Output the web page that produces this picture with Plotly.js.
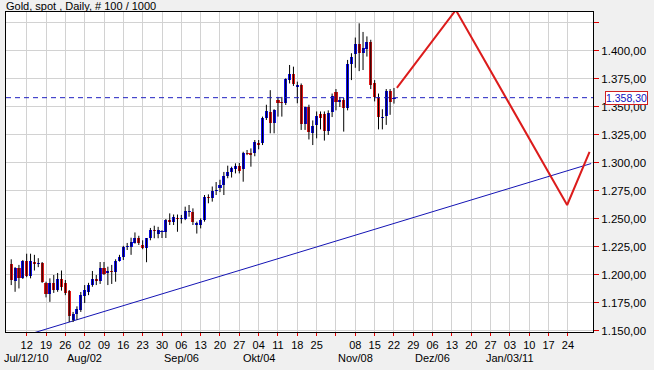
<!DOCTYPE html>
<html><head><meta charset="utf-8">
<script src="https://cdn.plot.ly/plotly-3.0.1.min.js"></script>
<style>html,body{margin:0;padding:0;background:#fff}#chart{width:654px;height:388px}</style>
</head><body><div id="chart"></div>
<script>
const dates = [
"2010-07-06","2010-07-07","2010-07-08","2010-07-09",
"2010-07-12","2010-07-13","2010-07-14","2010-07-15","2010-07-16",
"2010-07-19","2010-07-20","2010-07-21","2010-07-22","2010-07-23",
"2010-07-26","2010-07-27","2010-07-28","2010-07-29","2010-07-30",
"2010-08-02","2010-08-03","2010-08-04","2010-08-05","2010-08-06",
"2010-08-09","2010-08-10","2010-08-11","2010-08-12","2010-08-13",
"2010-08-16","2010-08-17","2010-08-18","2010-08-19","2010-08-20",
"2010-08-23","2010-08-24","2010-08-25","2010-08-26","2010-08-27",
"2010-08-30","2010-08-31","2010-09-01","2010-09-02","2010-09-03",
"2010-09-06","2010-09-07","2010-09-08","2010-09-09","2010-09-10",
"2010-09-13","2010-09-14","2010-09-15","2010-09-16","2010-09-17",
"2010-09-20","2010-09-21","2010-09-22","2010-09-23","2010-09-24",
"2010-09-27","2010-09-28","2010-09-29","2010-09-30","2010-10-01",
"2010-10-04","2010-10-05","2010-10-06","2010-10-07","2010-10-08",
"2010-10-11","2010-10-12","2010-10-13","2010-10-14","2010-10-15",
"2010-10-18","2010-10-19","2010-10-20","2010-10-21","2010-10-22",
"2010-10-25","2010-10-26","2010-10-27","2010-10-28","2010-10-29",
"2010-11-01","2010-11-02","2010-11-03","2010-11-04","2010-11-05",
"2010-11-08","2010-11-09","2010-11-10","2010-11-11","2010-11-12",
"2010-11-15","2010-11-16","2010-11-17","2010-11-18","2010-11-19",
"2010-11-22"];

const open = [
1209.8,1194.6,1206.3,1197.3,
1212.5,1199,1212,1210,1210.7,
1193,1183,1192.6,1186.6,1196,
1193,1185.7,1159.8,1165,1168.8,
1181,1184.5,1191,1196,1194.6,
1206,1201.6,1203.5,1202.4,1212.5,
1216.4,1225.3,1225.3,1229,1233.3,
1226.8,1224.5,1232.8,1240.5,1237,
1238,1238.2,1249,1247,1251,
1250,1250,1256,1256,1245,
1244.6,1249,1270,1269,1275,
1277.4,1280.4,1288.7,1292.3,1294.4,
1297.3,1294.4,1309.2,1309,1309.2,
1317.6,1317.6,1340,1345.8,1336,
1356,1354.7,1353.3,1374,1379.5,
1367.6,1369.6,1334.8,1350,1327,
1334,1344,1343.5,1328.6,1345.3,
1363,1354.5,1356,1349.4,1388,
1397,1406,1398,1402,1408,
1371,1359,1340,1342,1364,
1357.5];

const high = [
1214,1207,1209,1213.4,
1219,1219,1218,1215,1211.6,
1194,1197,1200,1201.8,1204,
1195.5,1186.6,1167,1172,1184.8,
1191,1193,1203.6,1200,1211.6,
1211.6,1207.4,1209,1214,1218,
1226,1228.6,1233.3,1238,1235,
1231,1233,1242,1244,1243,
1240,1250,1255,1254,1254,
1253.6,1261,1262.5,1259.5,1247.6,
1250.6,1271.4,1272,1279,1283,
1285,1292,1297.6,1296.7,1299.7,
1300,1310,1311.6,1313,1320.5,
1320.5,1341.4,1352,1365,1348,
1359,1359,1375.6,1387.5,1386,
1372.6,1371,1350.3,1352,1338,
1346,1346,1346,1347,1362,
1366,1359,1358,1392,1398,
1412,1424.7,1417,1413,1410,
1374,1362,1348,1366,1366,
1367];

const low = [
1191,1185,1188,1196.4,
1198,1197,1204,1207,1193,
1180,1176,1184,1185,1186,
1182,1158,1158,1160,1167,
1175,1182,1189.5,1191,1192,
1200,1191,1192,1194,1212,
1213.4,1222.3,1218,1228,1226.8,
1223,1211.4,1231,1232.8,1232.8,
1233,1233,1244.6,1244.6,1238.6,
1246,1249,1252,1244.6,1237,
1241.6,1247.6,1264,1265.5,1271.4,
1274,1271.4,1286.4,1287,1290.7,
1290.7,1283.3,1307,1296.7,1306,
1312.2,1316,1338.4,1326.5,1326.5,
1341.4,1341.4,1351.8,1371,1368.8,
1353.3,1329.5,1329.5,1321,1316,
1322,1330,1320,1325,1341,
1347,1350,1328,1347,1374,
1385,1382,1383,1395,1366,
1355,1330,1330,1334,1343,
1353];

const close = [
1195.5,1206.3,1197.3,1212.5,
1199,1212.5,1210,1211,1193.8,
1183,1193,1187,1196,1189,
1184,1163.4,1165,1169.6,1182,
1186.6,1191,1196,1195,1206,
1200.6,1203.6,1202.5,1212.5,1216.4,
1225.3,1226.3,1229.7,1232.8,1229,
1223.8,1232.8,1240,1239.5,1240,
1239,1249,1247,1252,1250,
1251,1257,1257,1247.6,1246,
1249,1270,1268.8,1275,1276,
1280.4,1288.7,1292.3,1295.3,1297.3,
1293,1309.2,1308,1307.5,1319,
1316,1340,1346.4,1336,1347.3,
1354,1353.3,1374.7,1379.5,1370.5,
1369.6,1334.8,1349.7,1327.4,1333,
1342,1340.5,1328.6,1344.4,1360,
1354.7,1356,1349.4,1388,1395,
1406,1398,1402.4,1408,1370,
1359,1341,1341.5,1364,1354.7,
1358.3];

const lastPrice = 1358.30;

// price grid levels; only 1.150–1.400 carry a label
const priceTicks = [1150,1175,1200,1225,1250,1275,1300,1325,1350,1375,1400,1425];
const labelledMax = 1400;

// weekly tick marks (Mondays) and their labels
const tickDates = ["2010-07-12","2010-07-19","2010-07-26","2010-08-02","2010-08-09","2010-08-16","2010-08-23","2010-08-30",
"2010-09-06","2010-09-13","2010-09-20","2010-09-27","2010-10-04","2010-10-11","2010-10-18","2010-10-25",
"2010-11-01","2010-11-08","2010-11-15","2010-11-22","2010-11-29","2010-12-06","2010-12-13","2010-12-20","2010-12-27",
"2011-01-03","2011-01-10","2011-01-17","2011-01-24"];
const tickText = ["12","19","26","02","09","16","23","30","06","13","20","27","04","11","18","25",
"","08","15","22","29","06","13","20","27","03","10","17","24"];

const monthDates = ["2010-07-12","2010-08-02","2010-09-06","2010-10-04","2010-11-08","2010-12-06","2011-01-03"];
const monthText = ["Jul/12/10","Aug/02","Sep/06","Okt/04","Nov/08","Dez/06","Jan/03/11"];

// drawn trend line and forecast zigzag
const trendX = ["2010-07-14","2011-02-01"];
const trendY = [1148.5, 1299.5];
const fcX = ["2010-11-22 18:00","2010-12-14 00:00","2011-01-21 19:00","2011-01-31 14:00"];
const fcY = [1367, 1436.6, 1262.5, 1310];

const BLUE = "#0c0cf0", RED = "#e01818";
const FONT = "Liberation Sans, Arial, sans-serif";
const DAY = 86400000;

const bodyBase = open.map((o,i)=>Math.min(o, close[i]));
const bodyLen = open.map((o,i)=>Math.abs(close[i]-o));
const bodyColor = open.map((o,i)=> close[i] >= o ? BLUE : RED);
const wx = [], wy = [];
dates.forEach((d,i)=>{ wx.push(d,d,null); wy.push(low[i],high[i],null); });

function fmt(v){
  const s = v.toFixed(2).split(".");
  return s[0].replace(/\B(?=(\d{3})+(?!\d))/g,".") + "," + s[1];
}
const priceText = priceTicks.map(v => v <= labelledMax ? fmt(v) : "");

const traces = [
  {type:"scatter", mode:"lines", x:trendX, y:trendY, line:{color:"#1414b4", width:1}, hoverinfo:"skip"},
  {type:"scatter", mode:"lines", x:wx, y:wy, line:{color:"#000", width:1}, connectgaps:false, hoverinfo:"skip"},
  {type:"bar", x:dates, y:bodyLen, base:bodyBase, width:0.8*DAY, marker:{color:bodyColor, line:{width:0}}, hoverinfo:"skip"},
  {type:"scatter", mode:"lines", x:fcX, y:fcY, line:{color:"#dc1c1c", width:2}, hoverinfo:"skip"}
];

const annotations = [
  {xref:"paper", yref:"paper", x:-0.0034, y:1.019, xanchor:"left", yanchor:"middle", showarrow:false,
   text:"Gold, spot , Daily, # 100 / 1000", font:{family:FONT, size:11, color:"#000"}},
  {xref:"paper", yref:"y", x:1.0204, y:lastPrice, xanchor:"left", yanchor:"middle", showarrow:false,
   text:fmt(lastPrice), font:{family:FONT, size:10.5, color:"#1010c0"}, bgcolor:"#fff",
   bordercolor:"#d02020", borderwidth:1, borderpad:0}
];
monthDates.forEach((d,i)=>annotations.push({xref:"x", yref:"paper", x:d, y:-0.080, xanchor:"center", yanchor:"middle",
  showarrow:false, text:monthText[i], font:{family:FONT, size:11, color:"#000"}}));

const layout = {
  width:654, height:388,
  margin:{l:6, r:61, t:12, b:56, pad:0},
  paper_bgcolor:"#f0f0f0", plot_bgcolor:"#fff",
  separators:",.",
  showlegend:false,
  bargap:0,
  font:{family:FONT, size:11, color:"#000"},
  xaxis:{type:"date", range:["2010-07-02 15:36","2011-02-01 11:30"],
    rangebreaks:[{bounds:["sat","mon"]}],
    tickmode:"array", tickvals:tickDates, ticktext:tickText,
    ticks:"outside", ticklen:3, tickcolor:"#e00000", tickwidth:1,
    showgrid:true, gridcolor:"#d2d2d2", gridwidth:1,
    showline:true, linecolor:"#000", linewidth:1, mirror:true, zeroline:false,
    tickfont:{family:FONT, size:11, color:"#000"}, fixedrange:true},
  yaxis:{side:"right", range:[1149.1,1434.8],
    tickmode:"array", tickvals:priceTicks, ticktext:priceText,
    ticks:"outside", ticklen:5, tickcolor:"#e00000", tickwidth:1,
    showgrid:true, gridcolor:"#d2d2d2", gridwidth:1,
    showline:true, linecolor:"#000", linewidth:1, mirror:true, zeroline:false,
    tickfont:{family:FONT, size:11.5, color:"#000"}, fixedrange:true},
  shapes:[
    {type:"rect", xref:"paper", yref:"paper", x0:-0.05, x1:1.2, y0:-0.2, y1:-0.11875, fillcolor:"#fff", line:{width:0}, layer:"below"},
    {type:"line", xref:"paper", yref:"y", x0:0, x1:1, y0:lastPrice, y1:lastPrice, line:{color:"#2020c0", width:1, dash:"5px,4px"}, layer:"above"}
  ],
  annotations:annotations
};

Plotly.newPlot("chart", traces, layout, {staticPlot:true, displayModeBar:false});
</script>
</body></html>
